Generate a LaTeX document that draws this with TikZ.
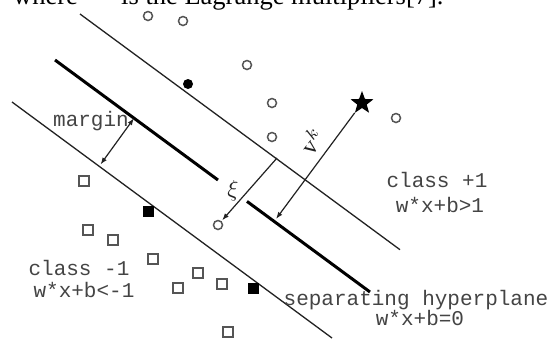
\documentclass[tikz,border=0pt]{standalone}
\usepackage{fontspec}
\setmainfont{Liberation Serif}
\newfontfamily\cour{Liberation Mono}
\usetikzlibrary{shapes.geometric,arrows.meta}
\definecolor{ink}{HTML}{222222}
\definecolor{txt}{HTML}{444444}
\definecolor{dot}{HTML}{555555}
\tikzset{
  thinline/.style={draw=ink,line width=1.3pt},
  thickline/.style={draw=black,line width=3pt},
  arr/.style={draw=ink,line width=1.2pt},
  tip/.style={-{Latex[length=7pt,width=5pt]}},
  opendot/.style={circle,draw=dot,line width=1.5pt,minimum size=9pt,inner sep=0pt},
  filldot/.style={circle,fill=black,minimum size=10pt,inner sep=0pt},
  opensq/.style={rectangle,draw=dot,line width=1.4pt,minimum size=10pt,inner sep=0pt},
  fillsq/.style={rectangle,fill=black,minimum size=11pt,inner sep=0pt},
  lbl/.style={text=txt,font=\cour\fontsize{21}{24}\selectfont,inner sep=0pt},
}
\begin{document}
\begin{tikzpicture}[x=1pt,y=-1pt]
\clip (0,0) rectangle (557,338);
\fill[white] (0,0) rectangle (557,338);
% cut-off caption line at top
\node[anchor=base west,inner sep=0pt,font=\fontsize{26.5}{30}\selectfont] (capA) at (13,4.5) {where};
\node[anchor=base west,inner sep=0pt,font=\fontsize{26.5}{30}\selectfont] (capB) at (121,4.5) {is the Lagrange multipliers[7].};
% lines
\coordinate (u1) at (80,14);
\coordinate (u2) at (400,249.7);
\coordinate (h1) at (55,60);
\coordinate (h2) at (218,180);
\coordinate (h3) at (247,201.4);
\coordinate (h4) at (370,292);
\coordinate (l1) at (12,102);
\coordinate (l2) at (332,338);
\draw[thinline] (u1) -- (u2);
\draw[thinline] (l1) -- (l2);
\draw[thickline] (h1) -- (h2);
\draw[thickline] (h3) -- (h4);
% points
\node[opendot] (c1) at (148,16) {};
\node[opendot] (c2) at (183,21) {};
\node[opendot] (c3) at (247,65) {};
\node[opendot] (c4) at (272,103) {};
\node[opendot] (c5) at (272,137) {};
\node[opendot] (c6) at (396,118) {};
\node[opendot] (c7) at (218,225) {};
\node[filldot] (f1) at (188,84) {};
\node[opensq] (s1) at (84,181) {};
\node[opensq] (s2) at (88,230) {};
\node[opensq] (s3) at (113,240) {};
\node[opensq] (s4) at (153,259) {};
\node[opensq] (s5) at (198,273) {};
\node[opensq] (s6) at (178,288) {};
\node[opensq] (s7) at (222,284) {};
\node[opensq] (s8) at (228,332) {};
\node[fillsq] (q1) at (148,211) {};
\node[fillsq] (q2) at (253,288) {};
\node[star,star points=5,star point ratio=2.4,fill=black,minimum size=24pt,inner sep=0pt] (st) at (362,103) {};
% margin arrow
\coordinate (m1) at (134,118.2);
\coordinate (m2) at (100.5,164.5);
\draw[arr,{Latex[length=7pt,width=5pt]}-{Latex[length=7pt,width=5pt]}] (m1) -- (m2);
% xi arrow
\coordinate (xs) at (277,158);
\draw[arr,tip,shorten >=1pt] (xs) -- (c7);
% v^k arrow
\coordinate (vf) at (276,219);
\draw[arr,tip] (st) -- (vf);
% labels
\node[lbl] (margin) at (91,121) {margin};
\node[lbl] (cp1) at (437,180) {class +1};
\node[lbl] (ep1) at (440,205) {w*x+b>1};
\node[lbl] (cm1) at (79,268) {class -1};
\node[lbl] (em1) at (84,290) {w*x+b<-1};
\node[lbl] (sep) at (416,300) {separating hyperplane};
\node[lbl] (e0) at (420,318) {w*x+b=0};
\node[inner sep=0pt,text=ink] (xi) at (233,191) {\scalebox{2.3}{$\xi$}};
\node[inner sep=0pt,text=ink,rotate=52.8] (vk) at (312,141) {\scalebox{2.4}{$\mathrm{v}^{k}$}};
\end{tikzpicture}
\end{document}
